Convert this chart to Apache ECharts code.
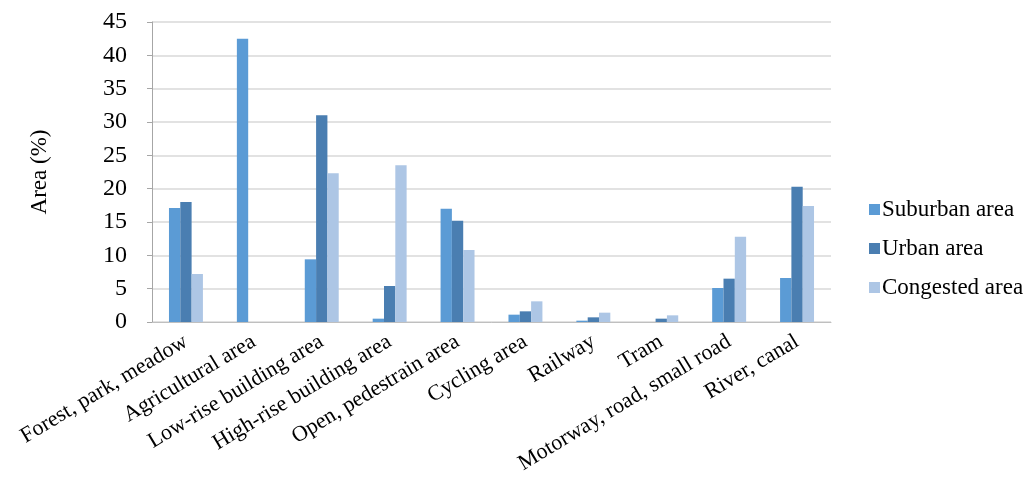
<!DOCTYPE html>
<html>
<head>
<meta charset="utf-8">
<script src="https://cdn.jsdelivr.net/npm/echarts@6/dist/echarts.min.js"></script>
<style>
  html, body { margin: 0; padding: 0; background: #fff; }
  #chart { width: 1031px; height: 482px; }
</style>
</head>
<body>
<div id="chart"></div>
<script>
// Land-use categories along the x axis
const categories = [
  'Forest, park, meadow', 'Agricultural area', 'Low-rise building area',
  'High-rise building area', 'Open, pedestrain area', 'Cycling area',
  'Railway', 'Tram', 'Motorway, road, small road', 'River, canal'
];

// Share of area (%) per category for each zone
const suburban  = [17.1, 42.5, 9.4, 0.5, 17.0, 1.1, 0.2, 0.0, 5.1, 6.6];
const urban     = [18.0, 0.0, 31.0, 5.4, 15.2, 1.6, 0.7, 0.5, 6.5, 20.3];
const congested = [7.2, 0.0, 22.3, 23.5, 10.8, 3.1, 1.4, 1.0, 12.8, 17.4];

const seriesNames = ['Suburban area', 'Urban area', 'Congested area'];
const seriesColors = ['#5B9BD5', '#4A7EB1', '#ADC6E5'];

const font = '"Liberation Serif", "Times New Roman", serif';

const chart = echarts.init(document.getElementById('chart'), null, { renderer: 'canvas' });

const dataSets = [suburban, urban, congested];

chart.setOption({
  animation: false,
  backgroundColor: '#ffffff',
  grid: { left: 152, right: 200, top: 22, bottom: 160, containLabel: false },
  legend: {
    orient: 'vertical',
    left: 864,
    top: 193,
    itemWidth: 11,
    itemHeight: 11,
    itemGap: 16,
    icon: 'rect',
    textStyle: { fontFamily: font, fontSize: 23, color: '#000', padding: [0, 0, 0, -3] },
    data: seriesNames
  },
  xAxis: {
    type: 'category',
    data: categories,
    axisLine: { show: true, lineStyle: { color: '#BFBFBF', width: 1 } },
    axisTick: { show: false },
    axisLabel: {
      interval: 0,
      rotate: 31,
      margin: 18,
      fontFamily: font,
      fontSize: 22,
      color: '#000'
    }
  },
  yAxis: {
    type: 'value',
    min: 0,
    max: 45,
    interval: 5,
    name: 'Area (%)',
    nameLocation: 'middle',
    nameGap: 101,
    nameRotate: 90,
    nameTextStyle: { fontFamily: font, fontSize: 23, color: '#000' },
    axisLine: { show: true, lineStyle: { color: '#A6A6A6', width: 1 } },
    axisTick: { show: true, length: 5, lineStyle: { color: '#A6A6A6' } },
    axisLabel: { fontFamily: font, fontSize: 24, color: '#000', margin: 25 },
    splitLine: { show: true, lineStyle: { color: '#D9D9D9', width: 1.5 } }
  },
  series: seriesNames.map((name, i) => ({
    name,
    type: 'bar',
    data: dataSets[i],
    barGap: '0%',
    barCategoryGap: '50%',
    itemStyle: { color: seriesColors[i] }
  }))
});
</script>
</body>
</html>
